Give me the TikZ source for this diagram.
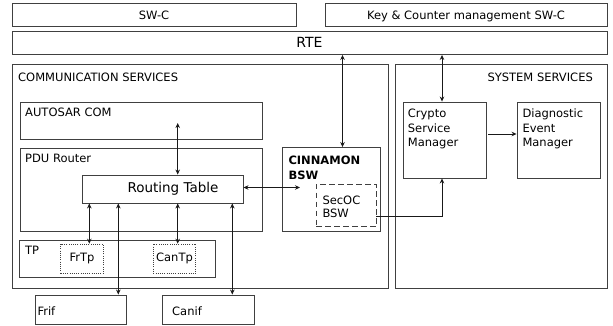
\documentclass[tikz,border=0pt]{standalone}
\usepackage{fontspec}
\setmainfont{DejaVu Sans}
\usetikzlibrary{arrows.meta, positioning}

\begin{document}
\begin{tikzpicture}[
    x=1pt, y=-1pt,
    box/.style={
        draw=black!75,
        line width=0.9pt,
        rectangle,
        inner sep=0pt,
        font=\fontsize{11.5}{14}\selectfont,
    },
    bar/.style={
        box,
        text height=1.1em,
        text depth=0pt,
    },
    subbox/.style={
        box,
        line width=0.7pt,
        dash pattern=on 1pt off 1.2pt,
    },
    secbox/.style={
        box,
        dash pattern=on 5.5pt off 3.5pt,
    },
    title/.style={
        anchor=base west,
        inner sep=0pt,
        align=left,
        font=\fontsize{11.5}{14.5}\selectfont,
    },
    link/.style={
        line width=0.8pt,
        black!90,
        {Stealth[length=5pt,width=4.5pt]}-{Stealth[length=5pt,width=4.5pt]},
    },
    flow/.style={
        line width=0.8pt,
        black!90,
        -{Stealth[length=5pt,width=4.5pt]},
    }
]
    \useasboundingbox (0,0) rectangle (613,326);

    % Application layer
    \node[bar, minimum width=284pt, minimum height=23pt] (swc) at (154,14.5) {SW-C};
    \node[bar, minimum width=282pt, minimum height=23pt] (keyswc) at (466,14.5) {Key \& Counter management SW-C};
    \node[box, minimum width=595pt, minimum height=23.5pt, font=\fontsize{14}{16}\selectfont] (rte) at (309.5,42.75) {RTE};

    % Service areas
    \node[box, minimum width=375.5pt, minimum height=224pt] (comm) at (200.25,176.5) {};
    \node[box, minimum width=212pt, minimum height=224pt] (sys) at (501.5,176.5) {};
    \node[title] (commtitle) at (18,81.5) {COMMUNICATION SERVICES};
    \node[title, anchor=base east] (systitle) at (593,81.5) {SYSTEM SERVICES};

    % Communication stack
    \node[box, minimum width=242pt, minimum height=37pt] (autosar) at (141,120.5) {};
    \node[title] (autosartitle) at (25,117) {AUTOSAR COM};
    \node[box, minimum width=242pt, minimum height=83.5pt] (pdu) at (141,189.75) {};
    \node[title] (pdutitle) at (25,162.3) {PDU Router};
    \node[box, minimum width=161pt, minimum height=28pt] (rt) at (162.5,189) {};
    \node[inner sep=0pt, font=\fontsize{13.5}{16}\selectfont] (rttext) at ([xshift=10.5pt]rt.center) {Routing Table};
    \node[box, minimum width=195.5pt, minimum height=37pt] (tp) at (117.25,259) {};
    \node[title] (tptitle) at (25,254) {TP};
    \node[subbox, minimum width=42.6pt, minimum height=29.3pt] (frtp) at (82,258.65) {FrTp};
    \node[subbox, minimum width=42.4pt, minimum height=29.3pt] (cantp) at (174.5,258.65) {CanTp};

    % CINNAMON (base = last line)
    \node[box, minimum width=98pt, minimum height=83.5pt] (cinn) at (331,189.25) {};
    \node[title, font=\fontsize{11.5}{14.3}\selectfont\bfseries] (cinntitle) at (288.3,179.3) {CINNAMON\\BSW};
    \node[secbox, minimum width=60pt, minimum height=42.5pt] (secoc) at (346,205.25) {};
    \node[title, font=\fontsize{11.5}{13.4}\selectfont] (secoctitle) at (322.3,217.7) {SecOC\\BSW};

    % Interfaces
    \node[box, minimum width=91pt, minimum height=29.5pt] (frif) at (80.5,309.75) {};
    \node[title] (friftitle) at (37.3,315) {Frif};
    \node[box, minimum width=92pt, minimum height=29.5pt] (canif) at (208.3,309.75) {};
    \node[title] (caniftitle) at (172,315) {Canif};

    % System services
    \node[box, minimum width=83pt, minimum height=76pt] (csm) at (444.5,140) {};
    \node[title] (csmtitle) at (407.7,146.7) {Crypto\\Service\\Manager};
    \node[box, minimum width=83pt, minimum height=76pt] (dem) at (558.5,140) {};
    \node[title] (demtitle) at (522.3,146.7) {Diagnostic\\Event\\Manager};

    % Connections
    \coordinate (comport) at (177.7,123);
    \coordinate (cinnport) at (300,187.5);
    \draw[link] ([xshift=11.5pt]cinn.north) -- ([xshift=11.5pt]cinn.north |- rte.south);
    \draw[link] ([xshift=-2.5pt]csm.north) -- ([xshift=-2.5pt]csm.north |- rte.south);
    \draw[flow] ([xshift=2pt,yshift=6pt]csm.east) -- ([yshift=6pt]dem.west);
    \draw[flow] ([yshift=-11.25pt]secoc.east) -| ([xshift=-2.5pt]csm.south);
    \draw[link] (comport) -- (comport |- rt.north);
    \draw[link] (rt.east |- cinnport) -- (cinnport);
    \draw[link] ([xshift=7.3pt]frtp.north) -- ([xshift=7.3pt]frtp.north |- rt.south);
    \draw[link] ([xshift=37.8pt]frif.north) -- ([xshift=37.8pt]frif.north |- rt.south);
    \draw[link] ([xshift=3.2pt]cantp.north) -- ([xshift=3.2pt]cantp.north |- rt.south);
    \draw[link] ([xshift=24pt]canif.north) -- ([xshift=24pt]canif.north |- rt.south);
\end{tikzpicture}
\end{document}
